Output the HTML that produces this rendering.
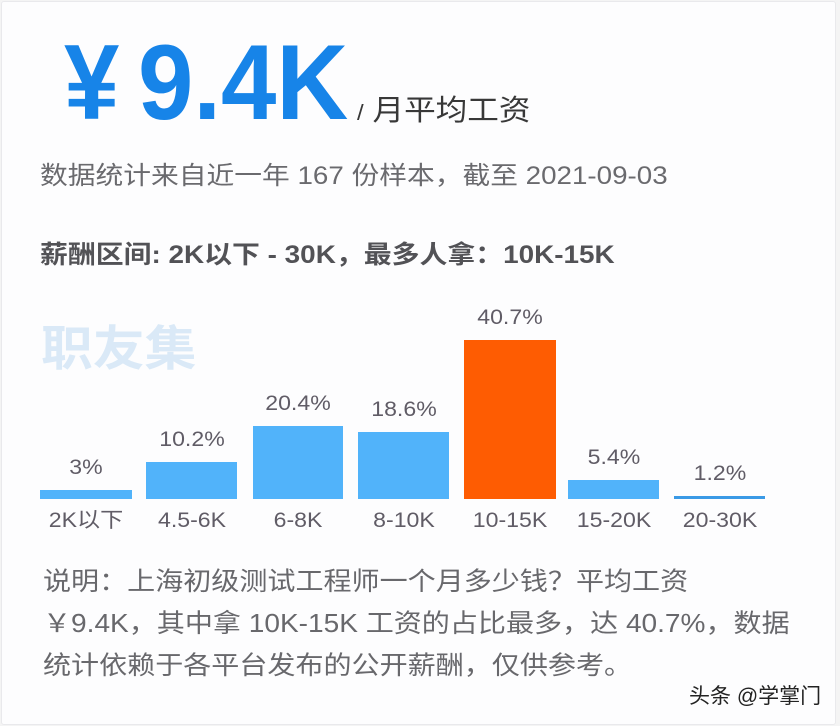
<!DOCTYPE html>
<html>
<head>
<meta charset="utf-8">
<style>
  html, body { margin:0; padding:0; }
  body { width:840px; height:726px; background:#f4f4f4; position:relative; overflow:hidden;
         font-family:"Liberation Sans","Noto Sans CJK SC",sans-serif; }
  .card { position:absolute; left:1px; top:1px; width:833px; height:722px; background:#fdfdfe;
          border:1px solid #e9e9ec; border-radius:3px; }
  .t { position:absolute; white-space:nowrap; transform-origin:left top; }
  .big { font-weight:bold; font-size:107px; line-height:107px; color:#1784e8; transform:scaleX(0.93); top:29px; }
  .bar { position:absolute; background:#51b3fa; }
  .bar.o { background:#fe5c02; }
  .lbl { position:absolute; width:140px; text-align:center; font-size:21px; line-height:21px;
         color:#605c66; transform:scaleX(1.1); transform-origin:center top; white-space:nowrap; }
</style>
</head>
<body>
<div class="card"></div>

<div class="t big" style="left:64px;">¥</div>
<div class="t big" style="left:138px;">9.4K</div>

<div class="t" style="left:357px; top:97px; font-size:29px; line-height:29px; color:#383838; transform:scaleX(1.09);"><span style="font-size:22px;">/</span> 月平均工资</div>

<div class="t" style="left:40px; top:164px; font-size:25px; line-height:25px; color:#6a6a6e; transform:scaleX(1.11);">数据统计来自近一年 167 份样本，截至 2021-09-03</div>

<div class="t" style="left:40px; top:243px; font-size:25px; line-height:25px; color:#525256; font-weight:bold; transform:scaleX(1.115);">薪酬区间: 2K以下 - 30K，最多人拿：10K-15K</div>

<div class="t" style="left:41px; top:326px; font-size:48px; line-height:48px; color:#dae9f7; font-weight:bold; transform:scaleX(1.08);">职友集</div>

<!-- bars -->
<div class="bar" style="left:40px; top:490px; width:92px; height:9px;"></div>
<div class="bar" style="left:146px; top:462px; width:91px; height:37px;"></div>
<div class="bar" style="left:253px; top:426px; width:90px; height:73px;"></div>
<div class="bar" style="left:358px; top:432px; width:91px; height:67px;"></div>
<div class="bar o" style="left:464px; top:340px; width:92px; height:159px;"></div>
<div class="bar" style="left:568px; top:480px; width:91px; height:19px;"></div>
<div class="bar" style="left:674px; top:496px; width:91px; height:3px; background:#3a9ae6;"></div>

<!-- value labels -->
<div class="lbl" style="left:16px; top:457px;">3%</div>
<div class="lbl" style="left:121.5px; top:429px;">10.2%</div>
<div class="lbl" style="left:228px; top:393px;">20.4%</div>
<div class="lbl" style="left:333.5px; top:399px;">18.6%</div>
<div class="lbl" style="left:440px; top:307px;">40.7%</div>
<div class="lbl" style="left:543.5px; top:447px;">5.4%</div>
<div class="lbl" style="left:649.5px; top:463px;">1.2%</div>

<!-- category labels -->
<div class="lbl" style="left:16px; top:510px;">2K以下</div>
<div class="lbl" style="left:121.5px; top:510px;">4.5-6K</div>
<div class="lbl" style="left:228px; top:510px;">6-8K</div>
<div class="lbl" style="left:333.5px; top:510px;">8-10K</div>
<div class="lbl" style="left:440px; top:510px;">10-15K</div>
<div class="lbl" style="left:543.5px; top:510px;">15-20K</div>
<div class="lbl" style="left:649.5px; top:510px;">20-30K</div>

<div class="t" style="left:43px; top:561px; font-size:25.5px; line-height:42px; color:#68686c; transform:scaleX(1.1);">说明：上海初级测试工程师一个月多少钱？平均工资<br>￥9.4K，其中拿 10K-15K 工资的占比最多，达 40.7%，数据<br>统计依赖于各平台发布的公开薪酬，仅供参考。</div>

<div class="t" style="left:689px; top:686px; font-size:21px; line-height:21px; color:#222; text-shadow:0 0 2px #fff, 0 0 1px #fff;">头条 @学掌门</div>
</body>
</html>
